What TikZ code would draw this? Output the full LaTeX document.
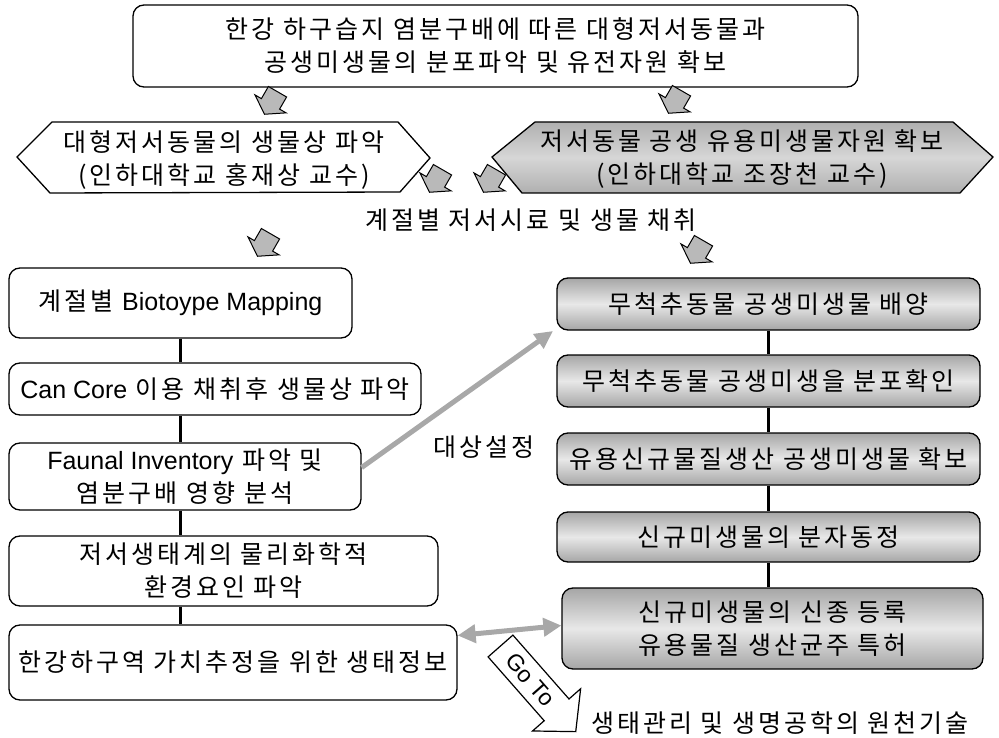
\documentclass[tikz,border=0pt]{standalone}
\usepackage{fontspec}
\setmainfont[LetterSpace=12]{Noto Sans CJK KR}
\newfontfamily\lat{Liberation Sans}
\usetikzlibrary{arrows.meta}
\begin{document}
\begin{tikzpicture}[x=1pt,y=-1pt,
  every node/.style={font=\fontsize{25}{33}\selectfont, align=center},
  whitebox/.style={draw, line width=1.3pt, rounded corners=11pt, fill=white, inner sep=0pt},
  graybox/.style={draw, line width=1.3pt, rounded corners=11pt, top color=gray!70, bottom color=gray!70, middle color=gray!18, inner sep=0pt},
  link/.style={line width=3pt},
  bigarrow/.style={line width=5pt, draw=gray!68, {Triangle[length=18pt,width=18pt,fill=gray!68]}-{Triangle[length=18pt,width=18pt,fill=gray!68]}},
  onearrow/.style={line width=5pt, draw=gray!68, -{Triangle[length=18pt,width=17pt,fill=gray!68]}},
  pics/fatarrow/.style={code={
    \draw[rotate=240, line width=1pt, fill=gray!55]
      (-13,-10.5) -- (1,-10.5) -- (1,-18) -- (13,0) -- (1,18) -- (1,10.5) -- (-13,10.5) -- cycle;}},
]
\useasboundingbox (0,0) rectangle (999,738);

% top box
\node[whitebox, minimum width=725pt, minimum height=82pt] (top) at (495.5,46)
  {한강 하구습지 염분구배에 따른 대형저서동물과\\공생미생물의 분포파악 및 유전자원 확보};

% hexagons
\draw[line width=1.3pt, fill=white] (17,157) -- (52,122) -- (398,122) -- (430,158) -- (400,192) -- (50,193) -- cycle;
\node (h1) at (224,160) {대형저서동물의 생물상 파악\\(인하대학교 홍재상 교수)};
\draw[line width=1.3pt, top color=gray!62, bottom color=gray!62, middle color=gray!32] (492,157) -- (535,122) -- (953,122) -- (993,157) -- (960,193) -- (522,193) -- cycle;
\node (h2) at (742,159) {저서동물 공생 유용미생물자원 확보\\(인하대학교 조장천 교수)};

\node (sample) at (531,220) {계절별 저서시료 및 생물 채취};

% small gray arrows
\pic (a1) at (271,103) {fatarrow};
\pic (a2) at (675,102) {fatarrow};
\pic (a3) at (436,181) {fatarrow};
\pic (a4) at (490,181) {fatarrow};
\pic (a5) at (264,245) {fatarrow};
\pic (a6) at (697,252) {fatarrow};

% left column
\node[whitebox, minimum width=343pt, minimum height=70pt] (L1) at (180.5,303) {계절별 {\lat Biotoype Mapping}};
\node[whitebox, minimum width=412pt, minimum height=52pt] (L2) at (215,389) {{\lat Can Core} 이용 채취후 생물상 파악};
\node[whitebox, minimum width=352pt, minimum height=67pt] (L3) at (185,476.5) {{\lat Faunal Inventory} 파악 및\\염분구배 영향 분석};
\node[whitebox, minimum width=429pt, minimum height=70pt] (L4) at (223.5,571) {저서생태계의 물리화학적\\환경요인 파악};
\node[whitebox, minimum width=448pt, minimum height=75pt] (L5) at (233,662.5) {한강하구역 가치추정을 위한 생태정보};

\draw[link] (L1.south) -- (L1.south |- L2.north);
\draw[link] (L1.south |- L2.south) -- (L1.south |- L3.north);
\draw[link] (L1.south |- L3.south) -- (L1.south |- L4.north);
\draw[link] (L1.south |- L4.south) -- (L1.south |- L5.north);

% right column
\node[graybox, minimum width=423pt, minimum height=52pt] (R1) at (768.5,304) {무척추동물 공생미생물 배양};
\node[graybox, minimum width=423pt, minimum height=52pt] (R2) at (768.5,381) {무척추동물 공생미생을 분포확인};
\node[graybox, minimum width=423pt, minimum height=52pt] (R3) at (768.5,459) {유용신규물질생산 공생미생물 확보};
\node[graybox, minimum width=423pt, minimum height=50pt] (R4) at (768.5,537) {신규미생물의 분자동정};
\node[graybox, minimum width=421pt, minimum height=81pt] (R5) at (772.5,628.5) {신규미생물의 신종 등록\\유용물질 생산균주 특허};

\draw[link] (R1.south) -- (R2.north);
\draw[link] (R2.south) -- (R3.north);
\draw[link] (R3.south) -- (R4.north);
\draw[link] (R4.south) -- (R4.south |- R5.north);

% cross arrows
\coordinate (tgt) at (553,331);
\draw[onearrow] ([yshift=9pt]L3.east) -- (tgt);
\node (label) at (484,447) {대상설정};
\draw[bigarrow] ([yshift=27pt]L5.east) -- ([yshift=3pt]R5.west);

% Go To arrow
\begin{scope}[shift={(500.5,646)}, rotate=-48.7]
  \draw[line width=1.2pt, fill=white] (0,16.5) -- (0,-16.5) -- (85,-16.5) -- (85,-32) -- (114,0) -- (85,32) -- (85,16.5) -- cycle;
  \coordinate (gotoc) at (45,0);
\end{scope}
\node[rotate=-48.7, inner sep=0pt, font=\lat\fontsize{23}{26}\selectfont] (goto) at (gotoc) {Go To};

\node (result) at (780,723) {생태관리 및 생명공학의 원천기술};
\end{tikzpicture}
\end{document}
